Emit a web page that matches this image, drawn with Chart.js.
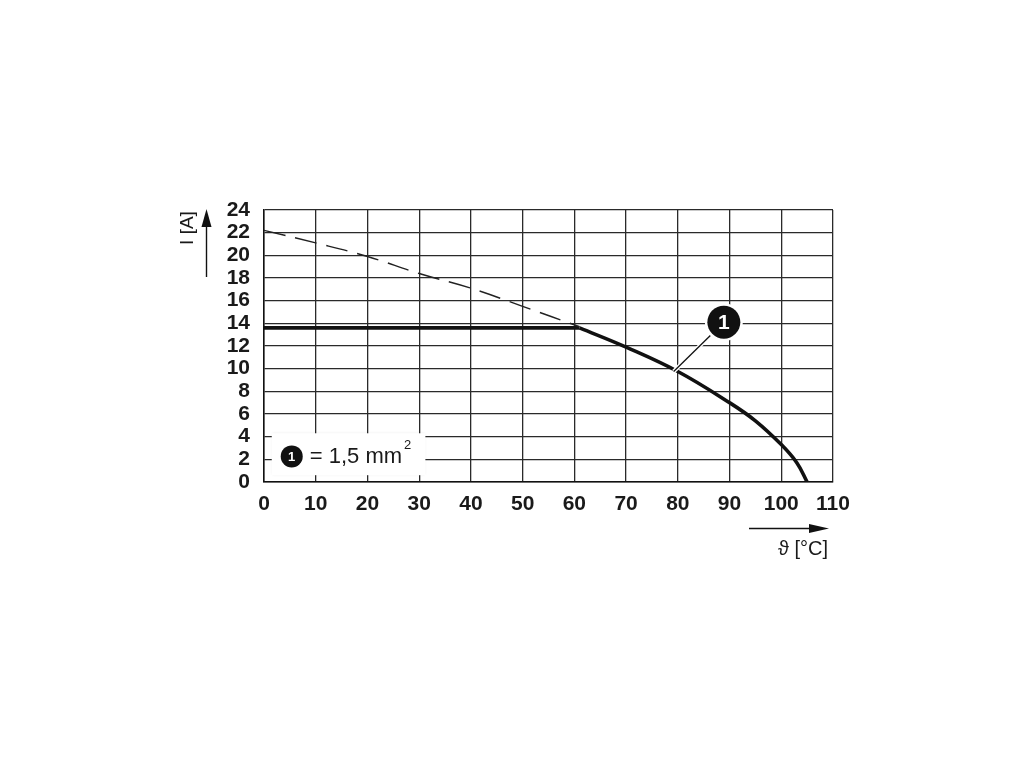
<!DOCTYPE html>
<html>
<head>
<meta charset="utf-8">
<script src="https://cdn.jsdelivr.net/npm/chart.js@4.4.0/dist/chart.umd.min.js"></script>
<style>
  html, body { margin: 0; padding: 0; background: #fff; }
</style>
</head>
<body>
<canvas id="myChart" width="1020" height="765"></canvas>
<script>
// values
const xTicks = [0, 10, 20, 30, 40, 50, 60, 70, 80, 90, 100, 110];
const yTicks = [0, 2, 4, 6, 8, 10, 12, 14, 16, 18, 20, 22, 24];

const flatT = [0, 61];
const flatI = [13.6, 13.6];

const curveT = [61, 70, 80, 90, 95, 100, 103, 105];
const curveI = [13.6, 11.9, 9.75, 7.0, 5.4, 3.3, 1.7, 0];

const dashT = [0, 10, 20, 30, 40, 50, 61];
const dashI = [22.2, 21.1, 19.9, 18.4, 17.1, 15.5, 13.7];

const legendText = '= 1,5 mm';
const yTitle = 'I [A]';
const xTitle = 'ϑ [°C]';

const FONT = '"Liberation Sans", Arial, Helvetica, sans-serif';

function pts(xs, ys) {
  return xs.map((x, i) => ({ x: x, y: ys[i] }));
}

function badge(ctx, cx, cy, r, ring, txt, size) {
  ctx.beginPath();
  ctx.arc(cx, cy, r + ring, 0, Math.PI * 2);
  ctx.fillStyle = '#fff';
  ctx.fill();
  ctx.beginPath();
  ctx.arc(cx, cy, r, 0, Math.PI * 2);
  ctx.fillStyle = '#111';
  ctx.fill();
  ctx.fillStyle = '#fff';
  ctx.font = 'bold ' + size + 'px ' + FONT;
  ctx.textAlign = 'center';
  ctx.textBaseline = 'middle';
  ctx.fillText(txt, cx, cy + 1);
}

const extras = {
  id: 'extras',
  beforeDatasetsDraw(chart) {
    const { ctx, scales: { x, y } } = chart;
    // legend box over the grid
    const l = x.getPixelForValue(1.5), r = x.getPixelForValue(31.2);
    const t = y.getPixelForValue(4.3), b = y.getPixelForValue(0.6);
    ctx.save();
    ctx.shadowColor = 'rgba(0,0,0,0.10)';
    ctx.shadowBlur = 3;
    ctx.fillStyle = '#fff';
    ctx.fillRect(l, t, r - l, b - t);
    ctx.restore();
  },
  afterDraw(chart) {
    const { ctx, chartArea: a, scales: { x, y } } = chart;
    ctx.save();

    // legend content
    const lx = x.getPixelForValue(5.36), ly = y.getPixelForValue(2.26);
    badge(ctx, lx, ly, 11, 0, '1', 13);
    ctx.fillStyle = '#1a1a1a';
    ctx.font = '22px ' + FONT;
    ctx.textAlign = 'left';
    ctx.textBaseline = 'alphabetic';
    const tx = lx + 18;
    ctx.fillText(legendText, tx, ly + 7);
    const w = ctx.measureText(legendText).width;
    ctx.font = '13px ' + FONT;
    ctx.fillText('2', tx + w + 2, ly - 7);

    // callout 1
    const cx = x.getPixelForValue(88.9), cy = y.getPixelForValue(14.1);
    const px = x.getPixelForValue(79.2), py = y.getPixelForValue(9.75);
    ctx.lineCap = 'butt';
    ctx.strokeStyle = '#fff';
    ctx.lineWidth = 4;
    ctx.beginPath(); ctx.moveTo(cx, cy); ctx.lineTo(px, py); ctx.stroke();
    ctx.strokeStyle = '#111';
    ctx.lineWidth = 1.3;
    ctx.beginPath(); ctx.moveTo(cx, cy); ctx.lineTo(px, py); ctx.stroke();
    badge(ctx, cx, cy, 16.5, 2.5, '1', 21);

    // y title and arrow
    const ax = a.left - 57.5;
    ctx.strokeStyle = '#111';
    ctx.lineWidth = 1.4;
    ctx.beginPath(); ctx.moveTo(ax, a.top + 67); ctx.lineTo(ax, a.top + 14); ctx.stroke();
    ctx.fillStyle = '#111';
    ctx.beginPath();
    ctx.moveTo(ax, a.top - 1);
    ctx.lineTo(ax - 5, a.top + 17);
    ctx.lineTo(ax + 5, a.top + 17);
    ctx.closePath(); ctx.fill();
    ctx.save();
    ctx.translate(a.left - 76, a.top + 18);
    ctx.rotate(-Math.PI / 2);
    ctx.font = '19px ' + FONT;
    ctx.textAlign = 'center';
    ctx.textBaseline = 'middle';
    ctx.fillStyle = '#1a1a1a';
    ctx.fillText(yTitle, 0, 0);
    ctx.restore();

    // x title and arrow
    const ay = a.bottom + 46.5;
    ctx.beginPath(); ctx.moveTo(a.right - 84, ay); ctx.lineTo(a.right - 18, ay); ctx.stroke();
    ctx.beginPath();
    ctx.moveTo(a.right - 4, ay);
    ctx.lineTo(a.right - 24, ay - 4.5);
    ctx.lineTo(a.right - 24, ay + 4.5);
    ctx.closePath(); ctx.fill();
    ctx.font = '20px ' + FONT;
    ctx.textAlign = 'right';
    ctx.textBaseline = 'middle';
    ctx.fillStyle = '#1a1a1a';
    ctx.fillText(xTitle, a.right - 5, a.bottom + 67);

    ctx.restore();
  }
};

const ctx = document.getElementById('myChart').getContext('2d');
const myChart = new Chart(ctx, {
  type: 'line',
  data: {
    datasets: [
      {
        data: pts(dashT, dashI),
        borderColor: '#222',
        borderWidth: 1.4,
        borderDash: [22, 10],
        tension: 0.4,
        pointRadius: 0
      },
      {
        data: pts(flatT, flatI),
        borderColor: '#111',
        borderWidth: 3.6,
        pointRadius: 0
      },
      {
        data: pts(curveT, curveI),
        borderColor: '#111',
        borderWidth: 3.6,
        tension: 0.4,
        pointRadius: 0
      }
    ]
  },
  options: {
    responsive: false,
    animation: false,
    devicePixelRatio: 1,
    layout: { padding: { left: 0, right: 187, top: 210, bottom: 0 } },
    plugins: { legend: { display: false }, tooltip: { enabled: false } },
    scales: {
      x: {
        type: 'linear',
        min: 0,
        max: 110,
        afterBuildTicks: s => { s.ticks = xTicks.map(v => ({ value: v })); },
        afterFit: s => { s.height = 283; },
        grid: { color: '#2a2a2a', lineWidth: 1.3, drawTicks: false },
        border: { color: '#111', width: 1.5 },
        ticks: {
          padding: 10,
          autoSkip: false,
          color: '#1a1a1a',
          font: { family: FONT, size: 21, weight: 'bold' },
          maxRotation: 0
        }
      },
      y: {
        type: 'linear',
        min: 0,
        max: 24,
        afterBuildTicks: s => { s.ticks = yTicks.map(v => ({ value: v })); },
        afterFit: s => { s.width = 264; },
        grid: { color: '#2a2a2a', lineWidth: 1.3, drawTicks: false },
        border: { color: '#111', width: 1.5 },
        ticks: {
          padding: 14,
          autoSkip: false,
          color: '#1a1a1a',
          font: { family: FONT, size: 21, weight: 'bold' }
        }
      }
    }
  },
  plugins: [extras]
});
</script>
</body>
</html>
